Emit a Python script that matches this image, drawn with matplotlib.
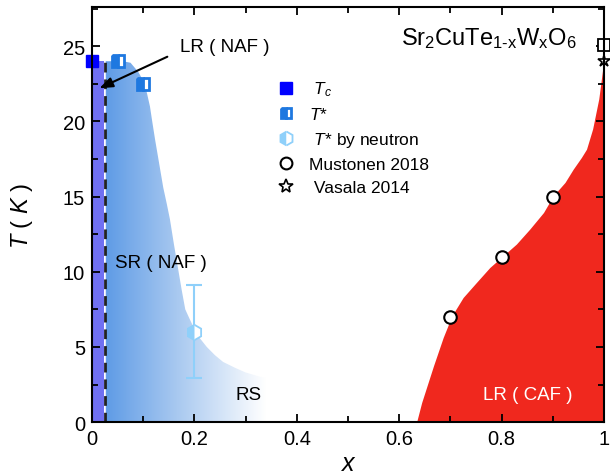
import numpy as np
import matplotlib
matplotlib.use("Agg")
import matplotlib.pyplot as plt
from matplotlib.path import Path
from matplotlib.patches import PathPatch
from matplotlib.colors import LinearSegmentedColormap
from matplotlib.lines import Line2D

plt.rcParams['font.family'] = ['Liberation Sans', 'DejaVu Sans']
plt.rcParams['mathtext.fontset'] = 'custom'
plt.rcParams['mathtext.it'] = 'Liberation Sans:italic'
plt.rcParams['mathtext.rm'] = 'Liberation Sans'

# ---- data ----
tc_x = [0.0]
tc_T = [24.0]
tstar_x = [0.05, 0.10]
tstar_T = [24.0, 22.5]
neutron_x = [0.2]
neutron_T = [6.0]
neutron_err = [3.1]
must_x = [0.7, 0.8, 0.9]
must_T = [7.0, 11.0, 15.0]
must_sq_x = [1.0]
must_sq_T = [25.1]
vasala_x = [1.0]
vasala_T = [24.0]

# region boundaries
lr_naf_x = 0.024
lr_naf_T = 24.0
sr_x = [0.026, 0.026, 0.06, 0.075, 0.09, 0.100, 0.107, 0.113, 0.117, 0.123,
        0.131, 0.139, 0.146, 0.152, 0.160, 0.168, 0.175, 0.182, 0.190, 0.197,
        0.210, 0.224, 0.240, 0.256, 0.280, 0.300, 0.330, 0.380, 0.420, 0.420]
sr_T = [0.0, 24.0, 24.0, 23.9, 23.3, 22.7, 21.9, 21.0, 20.1, 18.8,
        17.2, 15.6, 14.5, 13.5, 11.8, 10.2, 8.8, 7.5, 6.9, 6.4,
        5.6, 5.0, 4.45, 4.0, 3.6, 3.3, 3.0, 2.7, 2.5, 0.0]
caf_x = [0.634, 0.644, 0.667, 0.686, 0.703, 0.725, 0.751, 0.777, 0.803, 0.829,
         0.855, 0.882, 0.901, 0.924, 0.940, 0.956, 0.966, 0.978, 0.990, 1.0]
caf_T = [0.0, 1.31, 3.74, 5.63, 7.07, 8.29, 9.29, 10.28, 11.06, 11.84,
         12.83, 13.94, 15.05, 15.94, 16.82, 17.6, 18.15, 19.5, 21.5, 24.1]

xticks = [0, 0.2, 0.4, 0.6, 0.8, 1]
xticklabels = ['0', '0.2', '0.4', '0.6', '0.8', '1']
yticks = [0, 5, 10, 15, 20, 25]

fig = plt.figure(figsize=(6.1, 4.77), dpi=100)
ax = fig.add_axes([0.151, 0.113, 0.839, 0.870])
ax.set_xlim(0, 1)
ax.set_ylim(0, 27.6)

# purple LR(NAF) band
ax.fill_between([0, lr_naf_x], 0, lr_naf_T, color='#7070f2', lw=0, zorder=1)

# blue gradient SR region
cmap = LinearSegmentedColormap.from_list('bl', [(0, '#5e9be6'), (0.45, '#a9c9f0'), (1.0, '#ffffff')])
grad = np.linspace(0, 1, 256).reshape(1, -1)
im = ax.imshow(grad, extent=[0.026, 0.34, 0, 24], aspect='auto', cmap=cmap,
               interpolation='bilinear', zorder=1)
path = Path(np.column_stack([sr_x, sr_T]))
patch = PathPatch(path, facecolor='none', edgecolor='none', transform=ax.transData)
ax.add_patch(patch)
im.set_clip_path(patch)
ax.plot([0.025, 0.025], [0, 24], color='#dfe6fb', lw=0.8, zorder=2)

# red CAF region
ax.fill_between(caf_x, 0, caf_T, color='#f0281e', lw=0, zorder=1)

# dashed line
ax.plot([0.026, 0.026], [0, 24], color='#222222', lw=2, ls=(0, (3.5, 2.5)), zorder=3)

# error bar
ax.errorbar(neutron_x, neutron_T, yerr=[neutron_err, neutron_err], fmt='none',
            ecolor='#8fd0fa', elinewidth=1.5, capsize=6, capthick=1.5, zorder=4)
ax.plot(neutron_x, neutron_T, ls='none', marker='h', ms=11, fillstyle='left',
        markerfacecolor='#8fd0fa', markerfacecoloralt='white', markeredgecolor='#8fd0fa',
        mew=1.3, zorder=5)

ax.plot(tc_x, tc_T, ls='none', marker='s', ms=8.5, color='#0000ff', clip_on=False, zorder=6)
ax.plot(tstar_x, tstar_T, ls='none', marker='s', ms=8, fillstyle='left',
        markerfacecolor='#1e78e0', markerfacecoloralt='white', markeredgecolor='#1e78e0',
        mew=2, zorder=6)
ax.plot(must_x, must_T, ls='none', marker='o', ms=9, markerfacecolor='white',
        markeredgecolor='black', mew=1.5, zorder=6)
ax.plot(vasala_x, vasala_T, ls='none', marker='*', ms=9, markerfacecolor='white',
        markeredgecolor='black', mew=1.2, clip_on=False, zorder=6)
ax.plot(must_sq_x, must_sq_T, ls='none', marker='s', ms=8, markerfacecolor='white',
        markeredgecolor='black', mew=1.3, clip_on=False, zorder=7)

# texts
ax.text(0.26, 25.0, 'LR ( NAF )', fontsize=13.5, ha='center', va='center')
ax.annotate('', xy=(0.014, 22.2), xytext=(0.147, 24.3),
            arrowprops=dict(arrowstyle='-|>,head_length=0.8,head_width=0.3', color='black', lw=1.5,
                            shrinkA=0, shrinkB=0), zorder=8)
ax.text(0.044, 10.6, 'SR ( NAF )', fontsize=13.5, ha='left', va='center')
ax.text(0.305, 1.85, 'RS', fontsize=13.5, ha='center', va='center')
ax.text(0.851, 1.85, 'LR ( CAF )', fontsize=13.5, ha='center', va='center', color='white')
ax.text(0.947, 25.13, r'Sr$_2$CuTe$_{\mathregular{1\text{-}x}}$W$_{\mathregular{x}}$O$_6$', fontsize=17,
        ha='right', va='baseline')

# legend
handles = [
    Line2D([], [], ls='none', marker='s', ms=8, color='#0000ff'),
    Line2D([], [], ls='none', marker='s', ms=7, fillstyle='left', markerfacecolor='#1e78e0',
           markerfacecoloralt='white', markeredgecolor='#1e78e0', mew=2),
    Line2D([], [], ls='none', marker='h', ms=10, fillstyle='left', markerfacecolor='#8fd0fa',
           markerfacecoloralt='white', markeredgecolor='#8fd0fa', mew=1.3),
    Line2D([], [], ls='none', marker='o', ms=8.5, markerfacecolor='white', markeredgecolor='black', mew=1.5),
    Line2D([], [], ls='none', marker='*', ms=10, markerfacecolor='white', markeredgecolor='black', mew=1.2),
]
labels = [r' $T_c$', r'$T$*', r' $T$* by neutron', 'Mustonen 2018', ' Vasala 2014']
ax.legend(handles, labels, loc='upper left', bbox_to_anchor=(0.345, 0.846), frameon=False,
          fontsize=12.5, handlelength=1.0, handletextpad=0.8, labelspacing=0.45, borderpad=0)

# axes styling
ax.set_xticks(xticks)
ax.set_xticklabels(xticklabels)
ax.set_yticks(yticks)
ax.set_xticks(np.arange(0, 1.01, 0.1), minor=True)
ax.set_yticks(np.arange(0, 27.6, 2.5), minor=True)
ax.tick_params(which='both', direction='in', top=True, right=True, width=1.3, labelsize=14.5, pad=5)
ax.tick_params(which='major', length=6)
ax.tick_params(which='minor', length=4)
for s in ax.spines.values():
    s.set_linewidth(1.5)
    s.set_zorder(10)

ax.set_xlabel(r'$x$', fontsize=18, labelpad=2)
ax.set_ylabel(r'$T$ ( $K$ )', fontsize=17, labelpad=20)

fig.savefig('out.png', dpi=100)
